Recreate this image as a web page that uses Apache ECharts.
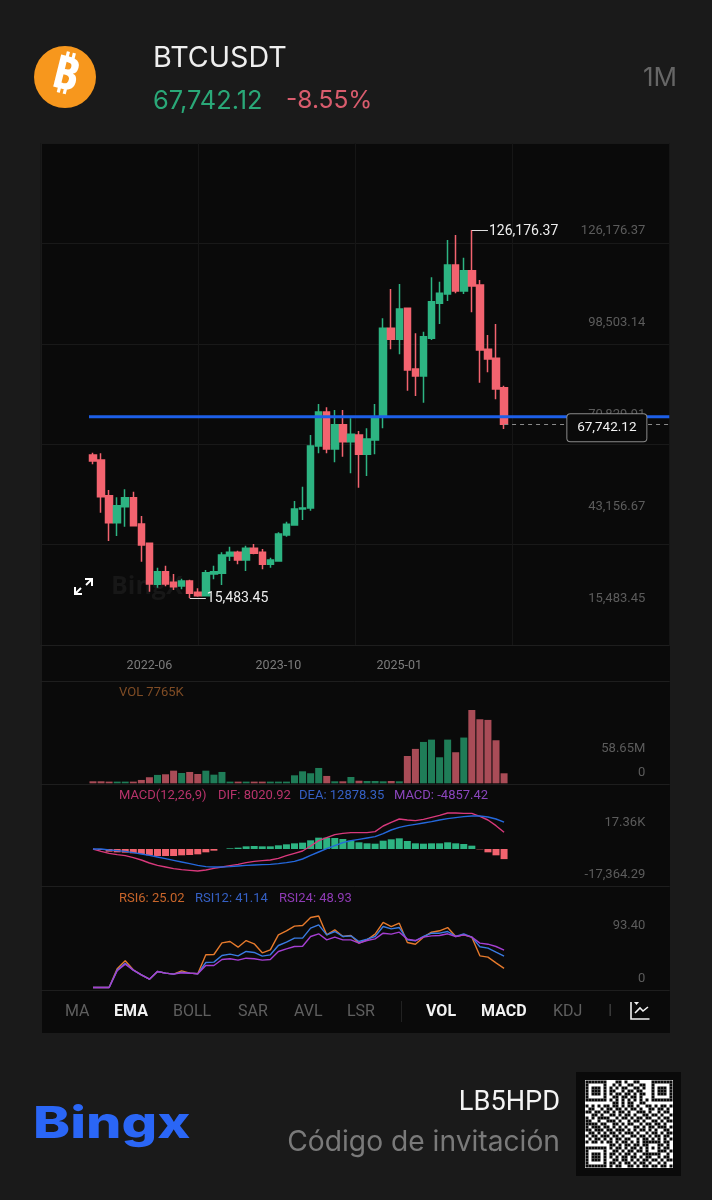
<!DOCTYPE html>
<html>
<head>
<meta charset="utf-8">
<style>
html,body{margin:0;padding:0;background:#1a1a1a;}
#main{width:712px;height:1200px;}
</style>
<script src="https://cdn.jsdelivr.net/npm/echarts@6/dist/echarts.min.js"></script>
</head>
<body>
<div id="main"></div>
<script>
// monthly candles 2021-11 .. 2026-02
var opens = [58495,56990,46260,38140,42950,45660,37740,31920,19590,23400,20190,19090,20590,17180,16180,22700,22900,28110,29220,26910,30420,29220,25610,26610,34430,37440,42280,42580,61180,71430,60300,67620,62500,64510,58700,63010,70020,96600,93290,102610,84360,82260,93590,104120,106925,115650,107830,113940,109630,90280,87570,78750];
var closes = [56690,45960,38140,43250,45660,37240,31420,19690,23400,19690,18890,20590,16880,16180,23100,23400,28410,29220,26910,30420,28910,25610,26910,34730,37640,42250,42580,61200,71430,60300,67620,62500,64710,58700,63310,70020,96600,93290,102410,84060,82260,94090,104620,107130,115650,107830,113940,109330,90080,87370,78350,67742.12];
var lows = [55690,41150,32620,34130,36940,37000,26410,17380,18590,19000,17880,18090,15483.45,15880,16000,21100,19390,26610,25610,23600,28610,24100,24600,26410,33930,37440,38940,41750,59000,59000,56290,58000,52980,48670,52180,58700,66520,90280,88780,77850,76240,74240,93090,97900,104820,107130,106925,101410,80250,83360,75240,66320];
var highs = [59195,59000,47965,45760,48170,47465,40145,31920,24600,25200,22700,21300,21000,18380,23900,25200,29220,30920,29720,31220,31720,30220,27610,35230,38440,44660,48970,64500,73830,72830,72030,72030,69520,65710,66520,73830,99605,108430,109930,102900,95090,95590,111940,110640,123170,124670,117850,126176.37,111135,94590,97900,79350];
// volume in millions
var volumes = [1.55,1.55,1.3,1.3,1.3,1.3,2.6,4.7,6.5,7,9.8,8,8.8,7.2,9.8,6.7,8.8,1.3,1.3,1.3,1.3,1.3,1.3,1.3,1.3,6.2,9.3,7.8,11.9,5.7,1.55,1.55,4.9,2,1.8,1.8,1.55,1.8,1.55,21.2,26.7,32.1,33.9,20.2,33.9,24.1,35.5,56.9,49.7,49.2,33.4,7.765];
var macdHist = [0,-480,-1280,-1600,-1760,-2080,-2400,-3040,-3360,-3360,-3360,-3040,-2880,-2560,-1600,-800,0,320,640,1280,1440,1280,1280,1760,2240,2720,3040,4160,5440,5440,5280,4800,4000,3200,2720,2560,4000,4640,5120,3840,2720,2560,2720,2720,3200,2720,2400,1600,-160,-1600,-3040,-4857.42];
var dif = [0,-1120,-2080,-2720,-3200,-4160,-5280,-6720,-7840,-8640,-9440,-9920,-10240,-10560,-10080,-9280,-8640,-8000,-7360,-6560,-5920,-5600,-5280,-4480,-3200,-2080,-960,1440,4000,5440,6880,7520,7840,7840,7840,8320,11040,12800,14400,13920,13600,14240,15200,16160,17280,17280,17120,17120,15680,13920,11200,8020.92];
var dea = [0,0,-480,-800,-1120,-1760,-2400,-3040,-3840,-4640,-5440,-6240,-7040,-7840,-8480,-8640,-8640,-8480,-8160,-7840,-7680,-7520,-7360,-7040,-6560,-5920,-4800,-3040,-1440,160,1600,3040,4000,4640,5280,5920,7360,9120,10400,11200,11840,12480,13120,13920,14560,15040,15520,15840,15840,15360,14400,12878.35];
var rsi6 = [0,0,0,24.4,34.9,23.1,16.6,10.9,20.9,18.7,17.4,21.8,18.7,17.9,42.7,43.1,58.4,60.1,52.7,61.4,57.1,45.3,49.2,68.8,74.1,80.2,81,91.5,93.4,68.8,75.4,66.7,68,58,62.3,69.7,85,79.7,84.1,58.8,56.6,65.8,72.3,74.1,78.4,66.7,68.8,65.8,41.4,39.7,32.2,25.02];
var rsi12 = [0,0,0,22.7,31.8,22.7,16.6,10.9,20.9,18.7,17.4,20,18.7,17.9,32.7,33.1,41.8,43.6,41.4,47.1,45.8,41,42.7,54.9,59.3,64.5,64.5,77.6,81.9,68.8,73.2,66.7,67.5,60.1,63.2,66.7,79.7,76.7,78.4,62.3,61,66.7,71,71,73.2,66.7,70.2,65.8,53.2,51.4,46.2,41.14];
var rsi24 = [0,0,0,21.8,30.5,22.7,16.6,10.9,20.9,18.7,17.4,19.2,18.7,17.9,28.8,28.8,36.6,37.5,35.7,38.3,37.5,35.7,36.6,47.1,50.5,53.6,54,66.7,70.2,62.3,65.8,62.3,62.3,58,61.4,63.6,71,69.7,72.3,63.2,61.4,65.8,67.5,68,70.2,66.7,68.8,65.8,58,56.6,53.6,48.93];

var priceTicks = [15483.45,43156.67,70829.91,98503.14,126176.37];
var volTicks = [0,58.65];
var volTickLabels = ['0','58.65M'];
var macdTicks = [-17364.29,17360];
var macdTickLabels = ['-17,364.29','17.36K'];
var rsiTicks = [0,93.4];
var rsiTickLabels = ['0','93.40'];
var dateLabels = ['2022-06','2023-10','2025-01'];

var lastPrice = 67742.12;
var highPrice = 126176.37;
var lowPrice = 15483.45;
var levelPrice = 70000;      // the blue level line
var levelFrom = 0.308;       // on the 0..4 column axis

var indicatorTabs = ['MA','EMA','BOLL','SAR','AVL','LSR'];
var paneTabs = ['VOL','MACD','KDJ'];

var qrRows = [
'11111110001101001100001111111','10000010010100110011001000001','10111010101011001101001011101','10111010110010110110001011101',
'10111010101101101011001011101','10000010011011011010001000001','11111110101010101010101111111','00000000011010110011000000000',
'10101011011010110100110101101','01100101101101011010011011010','11011011010110100111010010110','00110100110101101001101101001',
'10101111001011010110110010110','11001001110100101101001101011','11110110011010110010110110100','10111011010101001101011011101',
'11011101101110101011010100110','01101010110101110100101101011','10110111011010011011010110110','01011010101101100101101010101',
'10110101101011010101111110110','00000000110101101101100011010','11111110101101011010101010110','10000010011010110110100011101',
'10111010110101101001111110010','10111010101011011010110010110','10111010011011010101101101011','10000010110101101011010010100',
'11111110101100110101101101101'];

var green = '#2db482', red = '#f3636f', volGreen = '#1f7d58', volRed = '#a94c57';
var sepColor = '#1e1e1e', tickColor = '#5c5c5c';
var font = 'Roboto, sans-serif';
var headFont = 'Inter, sans-serif';

// 6 empty months in front, 20 behind, the view has 78 slots
var categories = [];
for (var i = 0; i < 78; i++) {
    var m = 4 + i;
    var mm = m % 12 + 1;
    categories.push((2021 + Math.floor(m / 12)) + '-' + (mm < 10 ? '0' : '') + mm);
}
function pad(arr) {
    var out = [];
    for (var i = 0; i < 78; i++) {
        out.push(i >= 6 && i < 6 + arr.length ? arr[i - 6] : '-');
    }
    return out;
}
function money(v) {
    return v.toLocaleString('en-US', {minimumFractionDigits: 2, maximumFractionDigits: 2});
}
var candleData = pad(opens).map(function (o, i) {
    if (o === '-') return '-';
    return [o, closes[i - 6], lows[i - 6], highs[i - 6]];
});
var volData = pad(volumes).map(function (v, i) {
    if (v === '-') return '-';
    return {value: v, itemStyle: {color: closes[i - 6] >= opens[i - 6] ? volGreen : volRed}};
});
var histData = pad(macdHist).map(function (v) {
    if (v === '-') return '-';
    return {value: v, itemStyle: {color: v >= 0 ? green : red}};
});

function txt(x, y, text, fill, size, weight, align, family, extra) {
    var t = {
        type: 'text', x: x, y: y, z: 100, silent: true,
        style: {
            text: text, fill: fill, textAlign: align || 'left', textVerticalAlign: 'middle',
            font: (weight || 'normal') + ' ' + size + 'px ' + (family || font)
        }
    };
    for (var k in extra) t[k] = extra[k];
    return t;
}
function poly(points, color, width) {
    return {type: 'polyline', z: 100, silent: true, shape: {points: points}, style: {stroke: color, lineWidth: width, fill: null}};
}

var graphics = [
    {type: 'rect', z: -100, silent: true, shape: {x: 42, y: 143, width: 628, height: 890}, style: {fill: '#0a0a0a'}},
    {type: 'circle', z: 100, silent: true, shape: {cx: 65, cy: 77, r: 31}, style: {fill: '#f7971d'}},
    {type: 'text', x: 65, y: 77, z: 101, silent: true, rotation: -14 * Math.PI / 180,
        style: {text: '\u20BF', fill: '#fff', textAlign: 'center', textVerticalAlign: 'middle', font: 'bold 46px "DejaVu Sans", "Noto Sans", sans-serif'}},
    txt(153, 58, 'BTCUSDT', '#efefef', 28.7, 'normal', 'left', headFont),
    txt(153, 101, money(lastPrice), '#2aa878', 25.4, 'normal', 'left', headFont),
    txt(286, 101, '-8.55%', '#d95c6d', 24.5, 'normal', 'left', headFont),
    txt(677, 78, '1M', '#666', 26, 'normal', 'right', headFont),
    // watermark under the candles
    {type: 'text', x: 111, y: 587, z: -90, silent: true, style: {text: 'BingX', fill: '#171717', textVerticalAlign: 'middle', font: 'bold 25px "Open Sans", sans-serif'}},
    poly([[75, 594], [81, 588]], '#fff', 2), poly([[86, 585], [92, 579]], '#fff', 2),
    poly([[85, 579], [92, 579], [92, 586]], '#fff', 2), poly([[75, 587], [75, 594], [82, 594]], '#fff', 2),
    // pane captions
    txt(119, 693, 'VOL 7765K', '#7f4c25', 13),
    txt(119, 796, 'MACD(12,26,9)', '#b8336b', 13),
    txt(218, 796, 'DIF: 8020.92', '#b8336b', 13),
    txt(299, 796, 'DEA: 12878.35', '#3560c4', 13),
    txt(394, 796, 'MACD: -4857.42', '#8b46bd', 13),
    txt(119, 899, 'RSI6: 25.02', '#c8652a', 13),
    txt(195, 899, 'RSI12: 41.14', '#3560c4', 13),
    txt(279, 899, 'RSI24: 48.93', '#8f3bb5', 13),
    // tab bar
    txt(65, 1012, indicatorTabs[0], '#5f5f5f', 16),
    txt(114, 1012, indicatorTabs[1], '#f2f2f2', 16, 'bold'),
    txt(173, 1012, indicatorTabs[2], '#5f5f5f', 16),
    txt(238, 1012, indicatorTabs[3], '#5f5f5f', 16),
    txt(294, 1012, indicatorTabs[4], '#5f5f5f', 16),
    txt(347, 1012, indicatorTabs[5], '#5f5f5f', 16),
    {type: 'rect', z: 100, silent: true, shape: {x: 401, y: 1001, width: 1, height: 21}, style: {fill: '#222'}},
    txt(426, 1012, paneTabs[0], '#f2f2f2', 16, 'bold'),
    txt(481, 1012, paneTabs[1], '#f2f2f2', 16, 'bold'),
    txt(553, 1012, paneTabs[2], '#5f5f5f', 16),
    txt(608, 1012, 'I', '#3c3c3c', 16),
    poly([[631, 1002], [631, 1019], [649.5, 1019]], '#f2f2f2', 1.6),
    poly([[635, 1013], [640, 1008], [643, 1011], [648, 1007]], '#f2f2f2', 1.6),
    {type: 'polygon', z: 100, silent: true, shape: {points: [[634, 1002], [639, 1002], [636.5, 1005]]}, style: {fill: '#f2f2f2'}},
    // footer
    txt(33, 1125, 'Bingx', '#2a66f6', 44, '800', 'left', headFont, {scaleX: 1.27}),
    txt(560, 1103, 'LB5HPD', '#f4f4f4', 28, 'normal', 'right', font, {scaleX: 0.97}),
    txt(560, 1143, 'C\u00F3digo de invitaci\u00F3n', '#7a7a7a', 28.2, 'normal', 'right', headFont),
    {type: 'rect', z: 100, silent: true, shape: {x: 576, y: 1072, width: 105, height: 104}, style: {fill: '#0a0a0a'}},
    {type: 'rect', z: 101, silent: true, shape: {x: 585, y: 1080, width: 88, height: 88}, style: {fill: '#fff'}}
];
qrRows.forEach(function (row, r) {
    row.split('').forEach(function (c, col) {
        if (c === '1') {
            graphics.push({type: 'rect', z: 102, silent: true,
                shape: {x: 585 + 0.5 + col * 3, y: 1080 + 0.5 + r * 3, width: 3, height: 3}, style: {fill: '#0a0a0a'}});
        }
    });
});

var gridLeft = 40.6, gridWidth = 628.7;
function paneX(gridIndex, position, extra) {
    var a = {
        type: 'category', data: categories, gridIndex: gridIndex, position: position || 'bottom',
        axisLine: {show: true, onZero: false, lineStyle: {color: sepColor}},
        axisTick: {show: false}, axisLabel: {show: false}, splitLine: {show: false}
    };
    for (var k in extra) a[k] = extra[k];
    return a;
}
function scaleY(gridIndex, min, max) {
    return {type: 'value', gridIndex: gridIndex, min: min, max: max, show: false, splitLine: {show: false}};
}
function labelY(gridIndex, min, max, ticks, fmt) {
    return {
        type: 'value', gridIndex: gridIndex, min: min, max: max, position: 'right',
        axisLine: {show: false}, axisTick: {show: false}, splitLine: {show: false},
        axisLabel: {inside: true, margin: 24, color: tickColor, fontSize: 13, fontFamily: font, customValues: ticks, formatter: fmt}
    };
}
function lineSeries(name, data, color, xi, yi) {
    return {
        name: name, type: 'line', data: pad(data), xAxisIndex: xi, yAxisIndex: yi, symbol: 'none', silent: true,
        lineStyle: {color: color, width: 1.4}
    };
}

var option = {
    animation: false,
    backgroundColor: 'transparent',
    graphic: graphics,
    grid: [
        {left: gridLeft, width: gridWidth, top: 143, height: 502},
        {left: gridLeft, width: gridWidth, top: 681, height: 103},
        {left: gridLeft, width: gridWidth, top: 784, height: 102},
        {left: gridLeft, width: gridWidth, top: 886, height: 104}
    ],
    xAxis: [
        paneX(0, 'bottom', {
            axisLabel: {
                show: true, color: '#7c7c7c', fontSize: 12.5, fontFamily: font, margin: 14,
                interval: function (i, v) { return dateLabels.indexOf(v) >= 0; }
            }
        }),
        // 4 even columns for the vertical grid lines
        {type: 'value', gridIndex: 0, min: 0, max: 4, interval: 1, axisLine: {show: false}, axisTick: {show: false}, axisLabel: {show: false},
            splitLine: {show: true, lineStyle: {color: '#161616'}}},
        paneX(1, 'bottom'),
        paneX(1, 'top'),
        paneX(2, 'bottom'),
        paneX(3, 'bottom')
    ],
    yAxis: [
        scaleY(0, 1345, 152347),
        // 5 even rows for the horizontal grid lines
        {type: 'value', gridIndex: 0, min: 0, max: 5, interval: 1, position: 'left', axisLine: {show: false}, axisTick: {show: false}, axisLabel: {show: false},
            splitLine: {show: true, lineStyle: {color: '#191919'}}},
        scaleY(1, -0.55, 79.4),
        labelY(1, -26.9, 224.8, volTicks, function (v) { return volTickLabels[volTicks.indexOf(v)]; }),
        scaleY(2, -17760, 31200),
        labelY(2, -24712, 43404, macdTicks, function (v) { return macdTickLabels[macdTicks.indexOf(v)]; }),
        scaleY(3, -3.3, 132.7),
        labelY(3, -19.3, 163.9, rsiTicks, function (v) { return rsiTickLabels[rsiTicks.indexOf(v)]; }),
        labelY(0, 1646, 152648, priceTicks, function (v) { return money(v); })
    ],
    series: [
        {
            name: 'BTCUSDT', type: 'candlestick', data: candleData, xAxisIndex: 0, yAxisIndex: 0, barWidth: 7, silent: true,
            itemStyle: {color: green, color0: red, borderColor: green, borderColor0: red, borderWidth: 1.5},
            markLine: {
                symbol: 'none', silent: true, animation: false,
                data: [
                    [{coord: ['2025-10', highPrice], lineStyle: {color: '#ddd', width: 1, type: 'solid'},
                        label: {show: true, position: 'end', distance: 1, offset: [0, 1], color: '#eee', fontSize: 14, fontFamily: font, formatter: money(highPrice)}},
                     {coord: ['2025-12', highPrice]}],
                    [{coord: ['2022-11', lowPrice], lineStyle: {color: '#ddd', width: 1, type: 'solid'},
                        label: {show: true, position: 'end', distance: 1, offset: [0, 1], color: '#eee', fontSize: 14, fontFamily: font, formatter: money(lowPrice)}},
                     {coord: ['2023-01', lowPrice]}],
                    [{coord: ['2026-02', lastPrice], lineStyle: {color: '#8a8a8a', width: 1, type: [4, 4]}, label: {show: false}},
                     {x: 669.3, yAxis: lastPrice}]
                ]
            },
            markPoint: {
                silent: true, animation: false,
                data: [{
                    coord: ['2027-03', lastPrice], symbol: 'circle', symbolSize: 1,
                    itemStyle: {color: 'transparent'},
                    label: {
                        show: true, position: 'inside', offset: [-2, 3.5], width: 79, height: 27, lineHeight: 27, align: 'center',
                        backgroundColor: '#0a0a0a', borderColor: '#8a8a8a', borderWidth: 1, borderRadius: 3,
                        color: '#f2f2f2', fontSize: 13.5, fontFamily: font, formatter: money(lastPrice)
                    }
                }]
            }
        },
        {
            name: 'Level', type: 'line', data: [[levelFrom, levelPrice], [4, levelPrice]], xAxisIndex: 1, yAxisIndex: 0, symbol: 'none', silent: true,
            lineStyle: {color: '#1d5fe8', width: 3}
        },
        {name: 'VOL', type: 'bar', data: volData, xAxisIndex: 2, yAxisIndex: 2, barWidth: 7, silent: true},
        {name: 'MACD', type: 'bar', data: histData, xAxisIndex: 4, yAxisIndex: 4, barWidth: 7, silent: true},
        lineSeries('DIF', dif, '#d8397c', 4, 4),
        lineSeries('DEA', dea, '#2468dc', 4, 4),
        lineSeries('RSI6', rsi6, '#e67a2c', 5, 6),
        lineSeries('RSI12', rsi12, '#3a7be2', 5, 6),
        lineSeries('RSI24', rsi24, '#a53fd2', 5, 6)
    ]
};

var myChart = echarts.init(document.getElementById('main'));
myChart.setOption(option);
</script>
</body>
</html>
